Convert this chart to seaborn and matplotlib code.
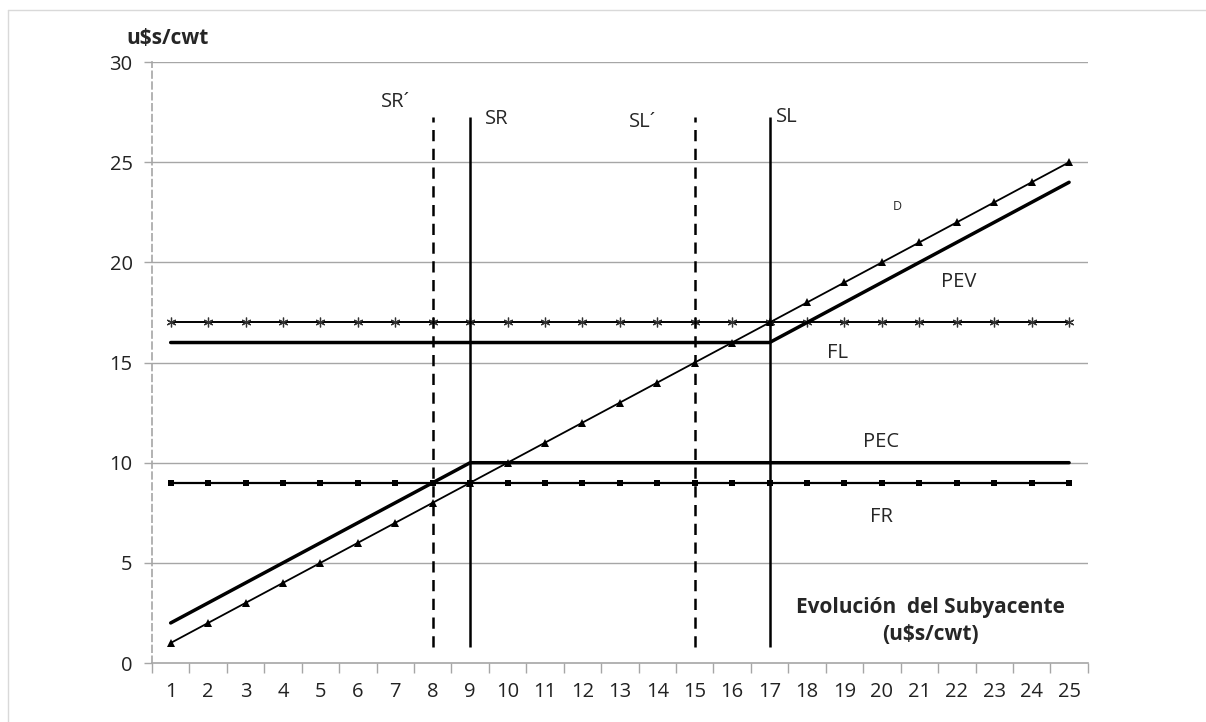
import matplotlib
matplotlib.use("Agg")
import matplotlib.pyplot as plt
import seaborn as sns
import pandas as pd
from matplotlib.ticker import FixedLocator
from matplotlib.lines import Line2D

# Data
precios = [1, 2, 3, 4, 5, 6, 7, 8, 9, 10, 11, 12, 13, 14, 15, 16, 17, 18, 19, 20, 21, 22, 23, 24, 25]
d_vals = [1, 2, 3, 4, 5, 6, 7, 8, 9, 10, 11, 12, 13, 14, 15, 16, 17, 18, 19, 20, 21, 22, 23, 24, 25]
pec_vals = [2, 3, 4, 5, 6, 7, 8, 9, 10, 10, 10, 10, 10, 10, 10, 10, 10, 10, 10, 10, 10, 10, 10, 10, 10]
pev_vals = [16, 16, 16, 16, 16, 16, 16, 16, 16, 16, 16, 16, 16, 16, 16, 16, 16, 17, 18, 19, 20, 21, 22, 23, 24]
fl_vals = [17] * 25
fr_vals = [9] * 25

strikes = [8, 9, 15, 17]
strike_labels = ["SR´", "SR", "SL´", "SL"]
strike_dashed = [True, False, True, False]
strike_low, strike_high = 0.8, 27.25

sns.set_theme(style="white")
plt.rcParams["font.family"] = ["Open Sans", "DejaVu Sans"]

df = pd.DataFrame({"x": precios, "D": d_vals, "PEC": pec_vals, "PEV": pev_vals,
                   "FL": fl_vals, "FR": fr_vals})

fig = plt.figure(figsize=(12.06, 7.22), dpi=100)
ax = fig.add_axes([0.126, 0.0817, 0.776, 0.8323])

# thin chart frame (left and top edges visible in the reference)
fig.add_artist(Line2D([8 / 1206, 8 / 1206], [0, 1 - 10 / 722], color="#d9d9d9", lw=1))
fig.add_artist(Line2D([8 / 1206, 1], [1 - 10 / 722, 1 - 10 / 722], color="#d9d9d9", lw=1))

# grid lines
for yv in [5, 10, 15, 20, 25, 30]:
    ax.axhline(yv, color="#a6a6a6", lw=1.0, zorder=0)

sns.lineplot(data=df, x="x", y="FL", ax=ax, color="black", lw=1.4,
             marker=(6, 2, 0), markersize=7, markeredgewidth=0.9, markeredgecolor="#333333")
sns.lineplot(data=df, x="x", y="FR", ax=ax, color="black", lw=1.6,
             marker="s", markersize=4.5, markeredgewidth=0)
sns.lineplot(data=df, x="x", y="D", ax=ax, color="black", lw=1.3,
             marker="^", markersize=6, markeredgewidth=0)
sns.lineplot(data=df, x="x", y="PEC", ax=ax, color="black", lw=2.5)
sns.lineplot(data=df, x="x", y="PEV", ax=ax, color="black", lw=2.5)

for xs, dashed in zip(strikes, strike_dashed):
    ax.vlines(xs, strike_low, strike_high, colors="black", lw=1.8,
              linestyles=(0, (4.5, 3)) if dashed else "solid")

# text labels
fs = 14.5
label_pos = [(7.0, 28.0), (9.7, 27.15), (13.6, 27.0), (17.45, 27.25)]
for lab, (lx, ly) in zip(strike_labels, label_pos):
    ax.text(lx, ly, lab, fontsize=fs, ha="center", va="center")
ax.text(20.4, 22.8, "D", fontsize=9, ha="center", va="center")
ax.text(22.05, 19.0, "PEV", fontsize=fs, ha="center", va="center")
ax.text(18.8, 15.5, "FL", fontsize=fs, ha="center", va="center")
ax.text(19.97, 11.05, "PEC", fontsize=fs, ha="center", va="center")
ax.text(20.0, 7.3, "FR", fontsize=fs, ha="center", va="center")
ax.text(21.3, 2.1, "Evolución  del Subyacente\n(u$s/cwt)", fontsize=15, fontweight="bold",
        ha="center", va="center", linespacing=1.4)

ax.set_xlim(0.5, 25.5)
ax.set_ylim(0, 30)
ax.set_xlabel("")
ax.set_ylabel("")

ax.xaxis.set_major_locator(FixedLocator(precios))
ax.set_xticklabels([str(v) for v in precios])
ax.xaxis.set_minor_locator(FixedLocator([v - 0.5 for v in precios] + [25.5]))
ax.tick_params(axis="x", which="major", length=0, pad=14, labelsize=14.5, labelcolor="#222222")
ax.tick_params(axis="x", which="minor", bottom=True, length=7, width=1, color="#a6a6a6", direction="out")
ax.set_yticks([0, 5, 10, 15, 20, 25, 30])
ax.tick_params(axis="y", left=True, length=6, width=1, color="#a6a6a6", direction="out",
               pad=8, labelsize=14.5, labelcolor="#222222")

for s in ["top", "right"]:
    ax.spines[s].set_visible(False)
ax.spines["bottom"].set_color("#a6a6a6")
ax.spines["bottom"].set_linewidth(1.2)
ax.spines["left"].set_color("#a6a6a6")
ax.spines["left"].set_linewidth(1.2)
ax.spines["left"].set_linestyle((0, (4, 2.5)))

fig.text(0.105, 0.946, "u$s/cwt", fontsize=15, fontweight="bold", ha="left", va="center")

fig.savefig("out.png", dpi=100, facecolor="white")
